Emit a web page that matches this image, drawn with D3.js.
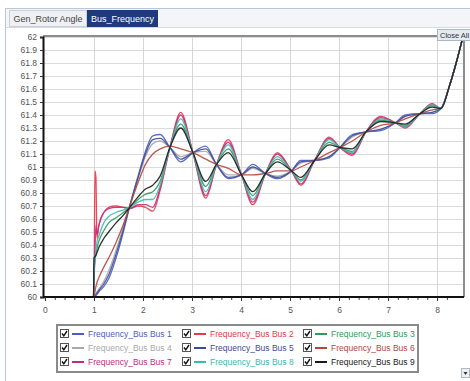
<!DOCTYPE html>
<html>
<head>
<meta charset="utf-8">
<script src="https://cdnjs.cloudflare.com/ajax/libs/d3/7.8.5/d3.min.js"></script>
<style>
body { margin: 0; background: #fff; }
svg { display: block; font-family: "Liberation Sans", Arial, sans-serif; }
</style>
</head>
<body>
<div id="chart"></div>
<script>
"use strict";

// time axis (s) shared by all series
var times = [0, 0.99, 1.0, 1.02, 1.04, 1.06, 1.1, 1.2, 1.3, 1.45, 1.6, 1.73, 1.9, 2.05, 2.2, 2.35,
	2.55, 2.77, 3.02, 3.28, 3.5, 3.74, 4.01, 4.24, 4.5, 4.74, 5.03, 5.22, 5.5, 5.8, 6.02, 6.27,
	6.55, 6.85, 7.15, 7.35, 7.65, 7.9, 8.08, 8.25, 8.39, 8.52];

var bus1 = [60, 60, 60.0, 60.0, 60.01, 60.02, 60.04, 60.08, 60.14, 60.3, 60.5, 60.7, 60.93, 61.12, 61.24, 61.25,
	61.15, 61.04, 61.11, 61.16, 61.02, 60.91, 60.94, 61.02, 60.95, 60.91, 60.97, 61.05, 61.05, 61.07, 61.15, 61.25,
	61.27, 61.28, 61.34, 61.4, 61.41, 61.41, 61.45, 61.62, 61.8, 61.99];
var bus2 = [60, 60, 60.05, 60.97, 60.92, 60.45, 60.55, 60.65, 60.69, 60.7, 60.69, 60.68, 60.7, 60.69, 60.66, 60.82,
	61.15, 61.42, 61.11, 60.76, 61.02, 61.21, 60.94, 60.71, 60.95, 61.11, 60.97, 60.86, 61.05, 61.23, 61.15, 61.09,
	61.27, 61.39, 61.34, 61.3, 61.41, 61.49, 61.45, 61.62, 61.8, 61.99];
var bus3 = [60, 60, 60.2, 60.28, 60.33, 60.37, 60.43, 60.51, 60.57, 60.61, 60.65, 60.69, 60.75, 60.79, 60.81, 60.89,
	61.15, 61.33, 61.11, 60.85, 61.02, 61.14, 60.94, 60.78, 60.95, 61.06, 60.97, 60.9, 61.05, 61.19, 61.15, 61.12,
	61.27, 61.36, 61.34, 61.32, 61.41, 61.47, 61.45, 61.62, 61.8, 61.99];
var bus4 = [60, 60, 60.0, 60.01, 60.02, 60.04, 60.06, 60.12, 60.2, 60.36, 60.54, 60.7, 60.91, 61.08, 61.18, 61.2,
	61.15, 61.08, 61.11, 61.12, 61.02, 60.94, 60.94, 60.99, 60.95, 60.93, 60.97, 61.03, 61.05, 61.08, 61.15, 61.23,
	61.27, 61.29, 61.34, 61.39, 61.41, 61.42, 61.45, 61.62, 61.8, 61.99];
var bus5 = [60, 60, 60.0, 60.01, 60.02, 60.03, 60.05, 60.1, 60.17, 60.33, 60.52, 60.7, 60.92, 61.1, 61.21, 61.22,
	61.15, 61.06, 61.11, 61.14, 61.02, 60.92, 60.94, 61.0, 60.95, 60.92, 60.97, 61.04, 61.05, 61.08, 61.15, 61.24,
	61.27, 61.29, 61.34, 61.39, 61.41, 61.42, 61.45, 61.62, 61.8, 61.99];
var bus6 = [60, 60, 60.0, 60.04, 60.08, 60.11, 60.15, 60.23, 60.3, 60.42, 60.56, 60.7, 60.88, 61.02, 61.1, 61.14,
	61.16, 61.14, 61.11, 61.06, 61.02, 60.99, 60.94, 60.94, 60.95, 60.97, 60.97, 61.0, 61.05, 61.11, 61.15, 61.2,
	61.27, 61.32, 61.34, 61.37, 61.41, 61.44, 61.45, 61.62, 61.8, 61.99];
var bus7 = [60, 60, 60.1, 60.35, 60.55, 60.48, 60.55, 60.65, 60.68, 60.69, 60.69, 60.68, 60.71, 60.71, 60.69, 60.84,
	61.15, 61.4, 61.11, 60.78, 61.02, 61.19, 60.94, 60.73, 60.95, 61.1, 60.97, 60.87, 61.05, 61.22, 61.15, 61.1,
	61.27, 61.38, 61.34, 61.31, 61.41, 61.48, 61.45, 61.62, 61.8, 61.99];
var bus8 = [60, 60, 60.15, 60.28, 60.36, 60.42, 60.47, 60.57, 60.62, 60.65, 60.67, 60.69, 60.73, 60.75, 60.75, 60.86,
	61.15, 61.37, 61.11, 60.81, 61.02, 61.17, 60.94, 60.75, 60.95, 61.08, 60.97, 60.89, 61.05, 61.21, 61.15, 61.11,
	61.27, 61.37, 61.34, 61.31, 61.41, 61.48, 61.45, 61.62, 61.8, 61.99];
var bus9 = [60, 60, 60.3, 60.31, 60.32, 60.34, 60.38, 60.45, 60.5, 60.57, 60.63, 60.69, 60.77, 60.83, 60.86, 60.93,
	61.15, 61.3, 61.11, 60.89, 61.02, 61.11, 60.94, 60.81, 60.95, 61.04, 60.97, 60.92, 61.05, 61.17, 61.15, 61.14,
	61.27, 61.35, 61.34, 61.33, 61.41, 61.46, 61.45, 61.62, 61.8, 61.99];

var seriesNames = ["Frequency_Bus Bus 1", "Frequency_Bus Bus 2", "Frequency_Bus Bus 3",
	"Frequency_Bus Bus 4", "Frequency_Bus Bus 5", "Frequency_Bus Bus 6",
	"Frequency_Bus Bus 7", "Frequency_Bus Bus 8", "Frequency_Bus Bus 9"];
var seriesValues = [bus1, bus2, bus3, bus4, bus5, bus6, bus7, bus8, bus9];
var seriesColors = ["#4c5cc6", "#e8364a", "#2e9a5c", "#a9a9a9", "#3e4a94", "#b4463c", "#c22c80", "#3cb8b0", "#1a1a1a"];

var xTicks = [0, 1, 2, 3, 4, 5, 6, 7, 8];
var yTicks = [60, 60.1, 60.2, 60.3, 60.4, 60.5, 60.6, 60.7, 60.8, 60.9, 61,
	61.1, 61.2, 61.3, 61.4, 61.5, 61.6, 61.7, 61.8, 61.9, 62];
var tabLabels = ["Gen_Rotor Angle", "Bus_Frequency"];

var W = 470, H = 381;
var plot = { left: 43, right: 464, top: 36, bottom: 297 };

var svg = d3.select("#chart").append("svg").attr("width", W).attr("height", H);

// window frame and tab strip
svg.append("rect").attr("x", 5.5).attr("y", 8.5).attr("width", W - 5).attr("height", H - 6)
	.attr("fill", "#fff").attr("stroke", "#b9c6d6");
svg.append("rect").attr("x", 6).attr("y", 9).attr("width", W - 6).attr("height", 18).attr("fill", "#f3f5f8");
svg.append("line").attr("x1", 6).attr("x2", W).attr("y1", 27.5).attr("y2", 27.5).attr("stroke", "#d4d9e0");

var tabs = [{ x: 9, w: 77, active: false }, { x: 87, w: 70, active: true }];
tabs.forEach(function (t, i) {
	svg.append("rect").attr("x", t.x + 0.5).attr("y", 10.5).attr("width", t.w).attr("height", 16)
		.attr("fill", t.active ? "#1d3a7a" : "#eef0f3").attr("stroke", t.active ? "#1d3a7a" : "#c9cfd8");
	svg.append("text").attr("x", t.x + t.w / 2 + 0.5).attr("y", 22).attr("text-anchor", "middle")
		.attr("font-size", 9).attr("fill", t.active ? "#fff" : "#444").text(tabLabels[i]);
});

var x = d3.scaleLinear().domain([-0.04, 8.55]).range([plot.left, plot.right]);
var y = d3.scaleLinear().domain([60, 62]).range([plot.bottom, plot.top + 1]);

// grid
var grid = svg.append("g");
grid.selectAll("line.h").data(yTicks.slice(1)).enter().append("line")
	.attr("x1", plot.left).attr("x2", plot.right)
	.attr("y1", function (d) { return Math.round(y(d)) + 0.5; })
	.attr("y2", function (d) { return Math.round(y(d)) + 0.5; })
	.attr("stroke", "#dcdcdc");
grid.selectAll("line.v").data(xTicks.slice(1)).enter().append("line")
	.attr("y1", plot.top).attr("y2", plot.bottom)
	.attr("x1", function (d) { return Math.round(x(d)) + 0.5; })
	.attr("x2", function (d) { return Math.round(x(d)) + 0.5; })
	.attr("stroke", "#d6d6d6");

// plot border (top/right grey)
svg.append("path").attr("d", "M" + plot.left + "," + plot.top + "H" + plot.right + "V" + plot.bottom)
	.attr("fill", "none").attr("stroke", "#8c8c8c").attr("stroke-width", 2);

// series
var clip = svg.append("clipPath").attr("id", "plotClip").append("rect")
	.attr("x", plot.left).attr("y", plot.top).attr("width", plot.right - plot.left).attr("height", plot.bottom - plot.top);

var line = d3.line()
	.x(function (d) { return x(d[0]); })
	.y(function (d) { return y(d[1]); })
	.curve(d3.curveMonotoneX);

var lines = svg.append("g").attr("clip-path", "url(#plotClip)");
seriesValues.forEach(function (vals, i) {
	var pts = times.map(function (t, j) { return [t, vals[j]]; });
	lines.append("path").attr("d", line(pts)).attr("fill", "none")
		.attr("stroke", seriesColors[i]).attr("stroke-width", 1.3).attr("stroke-opacity", 0.9);
});

// axes
var yAxis = d3.axisLeft(y).tickValues(yTicks).tickSize(3).tickPadding(3)
	.tickFormat(function (d) { return d3.format("")(+d.toFixed(1)); });
var gy = svg.append("g").attr("transform", "translate(" + plot.left + ",0)").call(yAxis);
gy.select(".domain").attr("stroke", "#111").attr("stroke-width", 2);
gy.selectAll("text").attr("font-size", 8.5).attr("fill", "#555").attr("font-family", "Liberation Sans, Arial, sans-serif");
gy.selectAll("line").attr("stroke", "#333");

var xMinor = d3.range(0, 42).map(function (k) { return k * 0.2; });
var gxm = svg.append("g").attr("transform", "translate(0," + plot.bottom + ")")
	.call(d3.axisBottom(x).tickValues(xMinor).tickSize(3).tickFormat(""));
gxm.select(".domain").remove();
gxm.selectAll("line").attr("stroke", "#444");

var xAxis = d3.axisBottom(x).tickValues(xTicks).tickSize(4).tickPadding(6);
var gx = svg.append("g").attr("transform", "translate(0," + plot.bottom + ")").call(xAxis);
gx.select(".domain").attr("d", "M" + plot.left + ",0H" + plot.right).attr("stroke", "#111").attr("stroke-width", 2);
gx.selectAll("text").attr("font-size", 8.5).attr("fill", "#555").attr("font-family", "Liberation Sans, Arial, sans-serif");
gx.selectAll("line").attr("stroke", "#333");

// "Close All" button
svg.append("rect").attr("x", 437.5).attr("y", 29.5).attr("width", 40).attr("height", 11)
	.attr("fill", "#e4eaf2").attr("stroke", "#a9b6c8");
svg.append("text").attr("x", 440).attr("y", 38).attr("font-size", 7.5).attr("fill", "#333").text("Close All");

// legend
var legend = svg.append("g");
legend.append("rect").attr("x", 57).attr("y", 325).attr("width", 361).attr("height", 47)
	.attr("fill", "#fff").attr("stroke", "#8a8a8a").attr("stroke-width", 2);
var colX = [60, 182, 303];
seriesNames.forEach(function (name, i) {
	var cx = colX[i % 3], cy = 334 + Math.floor(i / 3) * 14;
	var g = legend.append("g").attr("transform", "translate(" + cx + "," + cy + ")");
	g.append("rect").attr("x", 0.5).attr("y", -4.5).attr("width", 8).attr("height", 8)
		.attr("fill", "#fff").attr("stroke", "#555");
	g.append("path").attr("d", "M2,-0.5L3.8,1.8L7,-3").attr("fill", "none").attr("stroke", "#111").attr("stroke-width", 1.4);
	g.append("line").attr("x1", 12).attr("x2", 24).attr("y1", 0).attr("y2", 0)
		.attr("stroke", seriesColors[i]).attr("stroke-width", 2);
	g.append("text").attr("x", 28).attr("y", 3).attr("font-size", 8.5).attr("fill", seriesColors[i]).text(name);
});

// scroll arrow bottom right
svg.append("rect").attr("x", 461.5).attr("y", 368.5).attr("width", 8).attr("height", 9)
	.attr("fill", "#eef0f3").attr("stroke", "#b0b8c4");
svg.append("path").attr("d", "M463.5,372L467.5,372L465.5,375Z").attr("fill", "#333");
</script>
</body>
</html>
